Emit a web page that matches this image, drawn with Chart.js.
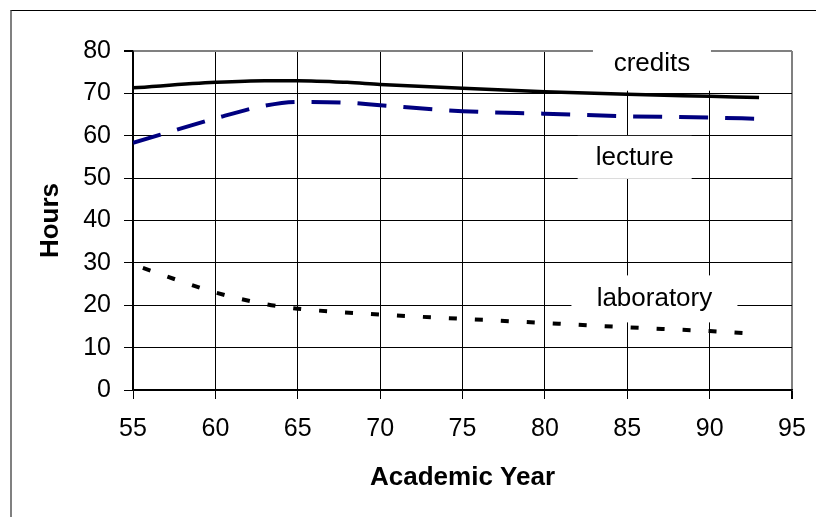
<!DOCTYPE html>
<html>
<head>
<meta charset="utf-8">
<script src="https://cdn.jsdelivr.net/npm/chart.js@4/dist/chart.umd.min.js"></script>
<style>
  html, body { margin: 0; padding: 0; background: #fff; }
  #wrap { position: relative; width: 816px; height: 517px; overflow: hidden; }
  #frame { position: absolute; left: 10px; top: 10px; width: 820px; height: 520px;
           border-top: 1px solid #000; border-left: 2px solid #808080; }
  canvas { position: absolute; left: 0; top: 0; }
</style>
</head>
<body>
<div id="wrap">
  <div id="frame"></div>
  <canvas id="c" width="816" height="517"></canvas>
</div>
<script>
// ---- data ----
const creditYears = [55, 60, 63, 65, 68, 70, 75, 80, 85, 90, 93];
const credits     = [71.3, 72.6, 73.0, 73.0, 72.6, 72.1, 71.2, 70.4, 69.8, 69.3, 69.0];
const lectureYears = [55, 60, 63, 65, 68, 70, 75, 80, 85, 90, 93];
const lecture      = [58.3, 64.1, 67.1, 68.0, 67.8, 67.2, 65.8, 65.2, 64.6, 64.3, 64.0];
const labYears   = [55.6, 60, 63, 65, 70, 75, 80, 85, 90, 93];
const laboratory = [28.8, 23.0, 20.3, 19.2, 17.8, 16.8, 15.8, 14.8, 13.9, 13.2];
const xTicks = [55, 60, 65, 70, 75, 80, 85, 90, 95];
const yTicks = [0, 10, 20, 30, 40, 50, 60, 70, 80];
const seriesLabels = ['credits', 'lecture', 'laboratory'];

// label boxes: text anchor in data units, box size in px
const labelBoxes = [
  { text: seriesLabels[0], x: 86.5, y: 77.0, w: 118, h: 54 },
  { text: seriesLabels[1], x: 85.45, y: 54.9, w: 114, h: 43 },
  { text: seriesLabels[2], x: 86.65, y: 21.5, w: 166, h: 47 }
];

const pts = (xs, ys) => xs.map((x, i) => ({ x: x, y: ys[i] }));
const FONT = "'Liberation Sans', Arial, sans-serif";

const labelPlugin = {
  id: 'labelBoxes',
  beforeDatasetsDraw(chart) {
    const ctx = chart.ctx;
    const xs = chart.scales.x, ys = chart.scales.y;
    ctx.save();
    labelBoxes.forEach(b => {
      const px = xs.getPixelForValue(b.x), py = ys.getPixelForValue(b.y);
      ctx.fillStyle = '#fff';
      ctx.fillRect(px - b.w / 2, py - b.h / 2, b.w, b.h);
      ctx.fillStyle = '#000';
      ctx.font = '26px ' + FONT;
      ctx.textAlign = 'center';
      ctx.textBaseline = 'middle';
      ctx.fillText(b.text, px, py);
    });
    ctx.restore();
  }
};

new Chart(document.getElementById('c'), {
  type: 'line',
  data: {
    datasets: [
      { label: seriesLabels[0], data: pts(creditYears, credits), borderColor: '#000',
        borderWidth: 3.5, pointRadius: 0, cubicInterpolationMode: 'monotone', fill: false },
      { label: seriesLabels[1], data: pts(lectureYears, lecture), borderColor: '#000080',
        borderWidth: 4, borderDash: [29, 17], pointRadius: 0, cubicInterpolationMode: 'monotone', fill: false },
      { label: seriesLabels[2], data: pts(labYears, laboratory), borderColor: '#000',
        borderWidth: 4, borderDash: [8, 18], pointRadius: 0, cubicInterpolationMode: 'monotone', fill: false }
    ]
  },
  options: {
    responsive: false,
    animation: false,
    layout: { padding: { left: 31, top: 51, right: 24, bottom: 20 } },
    plugins: { legend: { display: false }, tooltip: { enabled: false } },
    scales: {
      x: {
        type: 'linear', min: 55, max: 95,
        afterBuildTicks: s => { s.ticks = xTicks.map(v => ({ value: v })); },
        afterFit: s => { s.height = 107; s.paddingLeft = 0; s.paddingRight = 0; },
        grid: {
          color: c => (c.tick && c.tick.value === 95) ? '#808080' : '#000',
          lineWidth: c => (c.tick && c.tick.value === 95) ? 2 : 1,
          tickColor: '#000', tickLength: 9, drawTicks: true
        },
        border: { color: '#000', width: 1.5 },
        ticks: { color: '#000', padding: 15, font: { size: 25, family: FONT }, maxRotation: 0 },
        title: { display: true, text: 'Academic Year', color: '#000',
                 font: { size: 26, weight: 'bold', family: FONT }, padding: { top: 4, bottom: 4 } }
      },
      y: {
        min: 0, max: 80,
        afterBuildTicks: s => { s.ticks = yTicks.map(v => ({ value: v })); },
        afterFit: s => { s.width = 102; s.paddingTop = 0; s.paddingBottom = 0; },
        grid: {
          color: c => (c.tick && c.tick.value === 80) ? '#808080' : '#000',
          lineWidth: c => (c.tick && c.tick.value === 80) ? 2 : 1,
          tickColor: '#000', tickLength: 9, drawTicks: true
        },
        border: { color: '#000', width: 1.5 },
        ticks: { color: '#000', padding: 13, font: { size: 25, family: FONT } },
        title: { display: true, text: 'Hours', color: '#000',
                 font: { size: 26, weight: 'bold', family: FONT }, padding: { top: 4, bottom: 4 } }
      }
    }
  },
  plugins: [labelPlugin]
});
</script>
</body>
</html>
